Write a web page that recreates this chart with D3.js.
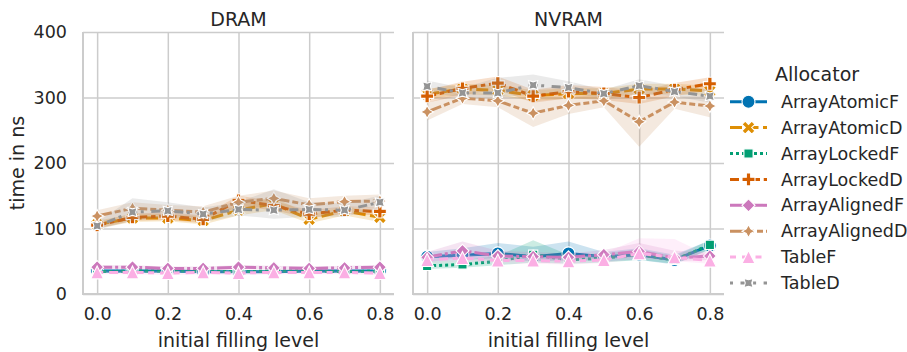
<!DOCTYPE html>
<html>
<head>
<meta charset="utf-8">
<script src="https://cdn.jsdelivr.net/npm/d3@7"></script>
<style>
  html, body { margin: 0; padding: 0; background: #fff; }
  svg { display: block; font-family: "DejaVu Sans", sans-serif; }
</style>
</head>
<body>
<svg id="chart" width="907" height="352"></svg>
<script>
// ---- data -------------------------------------------------------------
const fillLevels = [0.0, 0.1, 0.2, 0.3, 0.4, 0.5, 0.6, 0.7, 0.8];
const xTicks = [0.0, 0.2, 0.4, 0.6, 0.8];
const yTicks = [0, 100, 200, 300, 400];
const panels = ["DRAM", "NVRAM"];
const allocators = ["ArrayAtomicF", "ArrayAtomicD", "ArrayLockedF", "ArrayLockedD",
                    "ArrayAlignedF", "ArrayAlignedD", "TableF", "TableD"];
const palette = ["#0173b2", "#de8f05", "#029e73", "#d55e00",
                 "#cc78bc", "#ca9161", "#fbafe4", "#949494"];

// mean time (ns) per allocator, in allocator order
const dramMean = [
  [35, 35, 35, 34, 34, 34, 35, 35, 35],
  [106, 116, 116, 112, 128, 138, 114, 127, 117],
  [34, 35, 35, 35, 34, 35, 35, 34, 35],
  [105, 117, 119, 114, 143, 135, 122, 128, 126],
  [41, 41, 39, 39, 41, 40, 39, 40, 41],
  [119, 131, 128, 125, 140, 146, 136, 141, 142],
  [33, 33, 32, 33, 32, 33, 33, 33, 32],
  [104, 125, 127, 122, 129, 128, 129, 128, 140]
];
const dramLow = [
  [32, 32, 32, 32, 32, 32, 33, 32, 33],
  [100, 110, 111, 106, 120, 128, 108, 120, 110],
  [32, 33, 33, 33, 32, 33, 33, 32, 33],
  [100, 112, 113, 108, 134, 128, 116, 122, 120],
  [38, 38, 36, 36, 38, 37, 36, 37, 38],
  [110, 122, 120, 116, 130, 135, 125, 132, 132],
  [30, 30, 29, 30, 29, 30, 30, 30, 29],
  [98, 112, 118, 110, 120, 115, 118, 118, 130]
];
const dramHigh = [
  [38, 37, 37, 36, 36, 36, 37, 37, 37],
  [112, 122, 122, 118, 136, 148, 121, 134, 124],
  [36, 37, 37, 37, 36, 37, 37, 36, 37],
  [110, 123, 125, 120, 150, 142, 128, 134, 132],
  [44, 44, 42, 42, 44, 43, 42, 43, 44],
  [128, 140, 136, 134, 150, 158, 146, 150, 152],
  [36, 36, 35, 36, 35, 36, 36, 36, 35],
  [110, 146, 140, 132, 140, 160, 140, 138, 150]
];

const nvramMean = [
  [57, 59, 62, 57, 62, 57, 60, 52, 74],
  [305, 313, 311, 303, 306, 306, 313, 313, 310],
  [43, 45, 50, 60, 52, 55, 60, 52, 75],
  [302, 314, 322, 302, 309, 306, 300, 312, 321],
  [56, 66, 58, 57, 56, 60, 65, 55, 58],
  [278, 299, 295, 276, 288, 295, 263, 293, 287],
  [52, 55, 51, 51, 50, 52, 62, 56, 51],
  [317, 307, 307, 319, 315, 306, 318, 309, 302]
];
const nvramLow = [
  [50, 52, 55, 50, 52, 50, 52, 45, 68],
  [297, 305, 303, 295, 298, 298, 305, 305, 302],
  [38, 40, 44, 48, 46, 48, 52, 46, 68],
  [292, 304, 312, 292, 299, 296, 290, 302, 311],
  [48, 56, 50, 50, 50, 53, 56, 50, 52],
  [265, 290, 285, 255, 275, 285, 225, 283, 270],
  [46, 50, 46, 46, 45, 47, 55, 50, 46],
  [308, 300, 300, 305, 306, 300, 305, 302, 292]
];
const nvramHigh = [
  [64, 70, 78, 72, 80, 64, 70, 60, 82],
  [313, 321, 319, 311, 314, 314, 321, 321, 318],
  [50, 52, 58, 82, 60, 62, 68, 58, 82],
  [312, 324, 332, 312, 319, 316, 310, 322, 331],
  [64, 80, 66, 64, 62, 67, 78, 66, 64],
  [292, 308, 305, 296, 300, 305, 300, 303, 302],
  [58, 61, 56, 56, 55, 62, 85, 84, 58],
  [326, 315, 330, 335, 325, 312, 328, 318, 312]
];

// ---- styling ----------------------------------------------------------
const lw = 3;
const ms = 13;                       // marker size (px)
const dashUnits = [null, [4, 1.5], [1, 1], [3, 1.25, 1.5, 1.25], [5, 1, 1, 1],
                   [5, 1, 2, 1, 2, 1], [2, 2, 3, 1.5], [1, 2.5, 3, 1.2]];
const dashArray = i => dashUnits[i] ? dashUnits[i].map(d => d * lw).join(",") : null;
const gridColor = "#cccccc";
const textColor = "#262626";
const tickFont = 17.5, labelFont = 19;

// marker outlines, centred on 0,0
function polygon(pts) { return "M" + pts.map(p => p.join(",")).join("L") + "Z"; }
function regular(n, r, rotDeg) {
  const pts = [];
  for (let k = 0; k < n; k++) {
    const a = (-90 + rotDeg + k * 360 / n) * Math.PI / 180;
    pts.push([r * Math.cos(a), r * Math.sin(a)]);
  }
  return polygon(pts);
}
function star(n, r, inner, rotDeg) {
  const pts = [];
  for (let k = 0; k < 2 * n; k++) {
    const rr = k % 2 === 0 ? r : r * inner;
    const a = (-90 + rotDeg + k * 180 / n) * Math.PI / 180;
    pts.push([rr * Math.cos(a), rr * Math.sin(a)]);
  }
  return polygon(pts);
}
function markerPath(i) {
  const r = ms / 2;
  switch (i) {
    case 0: return `M${r},0A${r},${r} 0 1,1 ${-r},0A${r},${r} 0 1,1 ${r},0Z`;
    case 1: { const u = ms / 4;
      return polygon([[-1,-2],[0,-1],[1,-2],[2,-1],[1,0],[2,1],[1,2],[0,1],[-1,2],[-2,1],[-1,0],[-2,-1]]
        .map(p => [p[0] * u, p[1] * u])); }
    case 2: return regular(4, r, 45);
    case 3: { const u = ms / 6;
      return polygon([[-1,-3],[1,-3],[1,-1],[3,-1],[3,1],[1,1],[1,3],[-1,3],[-1,1],[-3,1],[-3,-1],[-1,-1]]
        .map(p => [p[0] * u, p[1] * u])); }
    case 4: return regular(4, r, 0);
    case 5: return star(4, r, 0.5, 0);
    case 6: return polygon([[0, -r], [-r, r], [r, r]]);
    case 7: return star(4, r, 0.5, 45);
  }
}

// ---- layout -----------------------------------------------------------
const svg = d3.select("#chart");
const yTop = 32, yBottom = 294;
const panelX = [[83, 394], [413, 724]];
const y = d3.scaleLinear().domain([0, 400]).range([yBottom, yTop]);

const panelData = [
  { mean: dramMean, low: dramLow, high: dramHigh },
  { mean: nvramMean, low: nvramLow, high: nvramHigh }
];

panels.forEach((name, p) => {
  const x = d3.scaleLinear().domain([-0.04, 0.84]).range(panelX[p]);
  const g = svg.append("g");

  // grid
  g.append("g").attr("transform", `translate(0,${yBottom})`)
    .call(d3.axisBottom(x).tickValues(xTicks).tickSize(-(yBottom - yTop)).tickFormat(""))
    .call(a => a.select(".domain").remove())
    .call(a => a.selectAll("line").attr("stroke", gridColor).attr("stroke-width", 1.5));
  g.append("g").attr("transform", `translate(${panelX[p][0]},0)`)
    .call(d3.axisLeft(y).tickValues(yTicks).tickSize(-(panelX[p][1] - panelX[p][0])).tickFormat(""))
    .call(a => a.select(".domain").remove())
    .call(a => a.selectAll("line").attr("stroke", gridColor).attr("stroke-width", 1.5));

  // spines
  g.append("line").attr("x1", panelX[p][0]).attr("x2", panelX[p][0])
    .attr("y1", yTop).attr("y2", yBottom + 1)
    .attr("stroke", gridColor).attr("stroke-width", 2);
  g.append("line").attr("x1", panelX[p][0] - 1).attr("x2", panelX[p][1])
    .attr("y1", yBottom).attr("y2", yBottom)
    .attr("stroke", gridColor).attr("stroke-width", 2);

  // tick labels
  const xa = g.append("g").attr("transform", `translate(0,${yBottom})`)
    .call(d3.axisBottom(x).tickValues(xTicks).tickSize(0).tickPadding(14).tickFormat(d3.format(".1f")));
  xa.select(".domain").remove();
  xa.selectAll("text").attr("fill", textColor).attr("font-size", tickFont)
    .attr("font-family", "DejaVu Sans");
  if (p === 0) {
    const ya = g.append("g").attr("transform", `translate(${panelX[p][0]},0)`)
      .call(d3.axisLeft(y).tickValues(yTicks).tickSize(0).tickPadding(16));
    ya.select(".domain").remove();
    ya.selectAll("text").attr("fill", textColor).attr("font-size", tickFont)
      .attr("font-family", "DejaVu Sans");
  }

  // titles and axis labels
  const cx = (panelX[p][0] + panelX[p][1]) / 2;
  g.append("text").attr("x", cx).attr("y", 26).attr("text-anchor", "middle")
    .attr("font-size", labelFont).attr("fill", textColor).text(name);
  g.append("text").attr("x", cx).attr("y", 347).attr("text-anchor", "middle")
    .attr("font-size", labelFont).attr("fill", textColor).text("initial filling level");

  // series: band, then line, then markers
  const d = panelData[p];
  allocators.forEach((al, i) => {
    const rows = fillLevels.map((f, k) => ({ f, m: d.mean[i][k], lo: d.low[i][k], hi: d.high[i][k] }));
    g.append("path").datum(rows)
      .attr("d", d3.area().x(r => x(r.f)).y0(r => y(r.lo)).y1(r => y(r.hi)))
      .attr("fill", palette[i]).attr("fill-opacity", 0.2).attr("stroke", "none");
    g.append("path").datum(rows)
      .attr("d", d3.line().x(r => x(r.f)).y(r => y(r.m)))
      .attr("fill", "none").attr("stroke", palette[i]).attr("stroke-width", lw)
      .attr("stroke-dasharray", dashArray(i));
    g.selectAll(null).data(rows).enter().append("path")
      .attr("d", markerPath(i))
      .attr("transform", r => `translate(${x(r.f)},${y(r.m)})`)
      .attr("fill", palette[i]).attr("stroke", "#fff").attr("stroke-width", 1.1);
  });
});

// y label
svg.append("text").attr("transform", `translate(24,${(yTop + yBottom) / 2}) rotate(-90)`)
  .attr("text-anchor", "middle").attr("font-size", labelFont).attr("fill", textColor)
  .text("time in ns");

// legend
const lg = svg.append("g");
lg.append("text").attr("x", 817).attr("y", 81).attr("text-anchor", "middle")
  .attr("font-size", labelFont).attr("fill", textColor).text("Allocator");
allocators.forEach((al, i) => {
  const cy = 101.7 + i * 25.9;
  lg.append("line").attr("x1", 730).attr("x2", 767).attr("y1", cy).attr("y2", cy)
    .attr("stroke", palette[i]).attr("stroke-width", lw).attr("stroke-dasharray", dashArray(i));
  lg.append("path").attr("d", markerPath(i)).attr("transform", `translate(748.5,${cy})`)
    .attr("fill", palette[i]).attr("stroke", "#fff").attr("stroke-width", 1.1);
  lg.append("text").attr("x", 781).attr("y", cy).attr("dy", "0.35em")
    .attr("font-size", tickFont).attr("fill", textColor).text(al);
});
</script>
</body>
</html>
